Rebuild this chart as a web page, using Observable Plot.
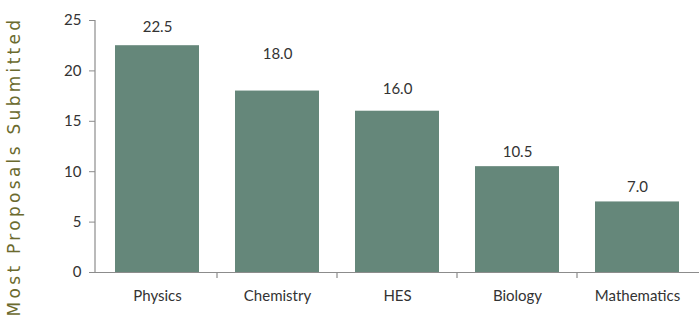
<!DOCTYPE html>
<html>
<head>
<meta charset="utf-8">
<script src="https://cdn.jsdelivr.net/npm/d3@7"></script>
<script src="https://cdn.jsdelivr.net/npm/@observablehq/plot@0.6"></script>
<style>
  html, body { margin: 0; padding: 0; background: #fff; }
</style>
</head>
<body>
<div id="chart"></div>
<script>
const categories = ["Physics", "Chemistry", "HES", "Biology", "Mathematics"];
const values = [22.5, 18.0, 16.0, 10.5, 7.0];
const labelAt = [24.3, 21.7, 18.2, 11.9, 8.5];
const yTicks = [0, 5, 10, 15, 20, 25];
const yTitle = "Most Proposals Submitted";

const data = categories.map((c, i) => ({category: c, value: values[i], labelY: labelAt[i]}));

const font = "Lato, 'Open Sans', sans-serif";
const axisColor = "#8c8c8c";

const chart = Plot.plot({
  width: 699,
  height: 328,
  marginLeft: 95,
  marginRight: 0,
  marginTop: 20,
  marginBottom: 56,
  style: {fontFamily: font, fontSize: "15px", color: "#333", background: "#fff"},
  x: {domain: categories, paddingInner: 0.3, paddingOuter: 0.15, label: null},
  y: {domain: [0, 25], ticks: yTicks, label: null},
  marks: [
    Plot.barY(data, {x: "category", y: "value", fill: "#65877a"}),
    Plot.ruleY([0], {stroke: axisColor, strokeWidth: 1.2, insetLeft: -6}),
    // y axis line and category boundary ticks under the x axis
    Plot.ruleX(categories.slice(1), {
      x: d => d,
      render(index, scales, values, dims) {
        const xs = scales.x, ys = scales.y;
        const step = xs.step(), bw = xs.bandwidth();
        const g = d3.create("svg:g").attr("stroke", axisColor).attr("stroke-width", 1.2);
        const x0 = xs.range()[0];
        g.append("line").attr("x1", x0).attr("x2", x0).attr("y1", ys(yTicks[yTicks.length - 1])).attr("y2", ys(0));
        for (const i of index) {
          const c = categories.slice(1)[i];
          const px = xs(c) - (step - bw) / 2;
          g.append("line").attr("x1", px).attr("x2", px).attr("y1", ys(0)).attr("y2", ys(0) + 6);
        }
        return g.node();
      }
    }),
    Plot.axisY({ticks: yTicks, tickSize: 6, tickPadding: 8, stroke: axisColor, fill: "#333", fontSize: 15, label: null}),
    Plot.axisX({tickSize: 0, tickPadding: 18, fontSize: 15, fill: "#333", label: null}),
    Plot.text(data, {x: "category", y: "labelY", text: d => d.value.toFixed(1), fill: "#333", fontSize: 15}),
    Plot.text([yTitle], {
      frameAnchor: "left", textAnchor: "middle", rotate: -90, dx: -81, dy: 20,
      fill: "#6b6a2e", text: d => d,
      render(index, scales, values, dims, context, next) {
        const g = next(index, scales, values, dims, context);
        d3.select(g).selectAll("text")
          .style("font-family", "'DejaVu Sans', sans-serif")
          .style("font-size", "17px")
          .style("letter-spacing", "3.3px");
        return g;
      }
    })
  ]
});

document.getElementById("chart").append(chart);
</script>
</body>
</html>
